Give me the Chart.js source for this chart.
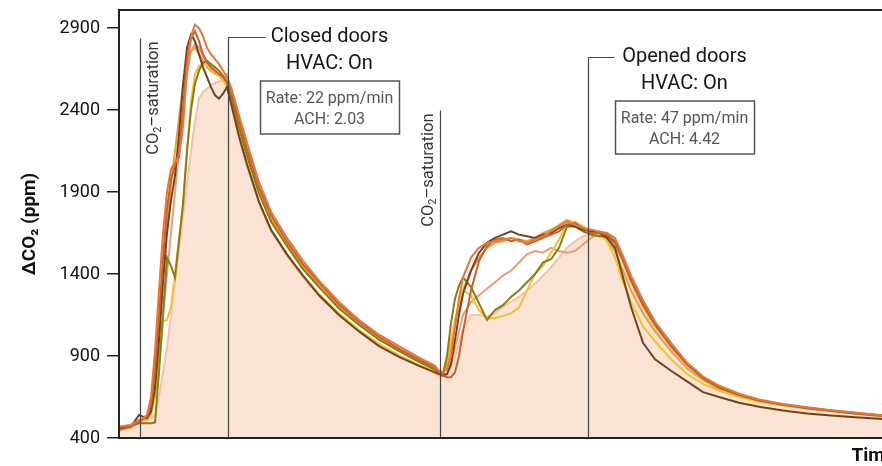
<!DOCTYPE html>
<html>
<head>
<meta charset="utf-8">
<script src="https://cdn.jsdelivr.net/npm/chart.js@4.4.1/dist/chart.umd.min.js"></script>
<style>
  html, body { margin: 0; padding: 0; background: #fff; overflow: hidden; }
  #wrap { width: 900px; height: 466px; }
</style>
</head>
<body>
<div id="wrap"><canvas id="co2Chart" width="900" height="466"></canvas></div>
<script>
// time in arbitrary minutes (the original has no x tick labels)
const minutes = [0, 3, 5, 6, 7, 8, 9, 10, 11, 12, 13, 14, 15, 16, 17, 18, 19, 20, 21, 22, 23, 24, 25, 26, 27,
  28, 30, 32, 35, 38, 42, 46, 50, 55, 60, 65, 70, 75, 79,
  80, 81, 82, 83, 84, 85, 86, 88, 90, 92, 94, 96, 98, 100, 102, 104, 106, 108, 110, 112, 114, 116, 118, 120,
  122, 124, 126, 128, 131, 134, 138, 142, 146, 150, 155, 160, 166, 172, 178, 184, 190, 194];

const ppmTicks = [400, 900, 1400, 1900, 2400, 2900];

// ΔCO2 (ppm) for each repeated run
const runOrange = [470, 480, 510, 520, 540, 650, 930, 1300, 1650, 1900, 2040, 2080, 2110, 2300, 2650, 2850, 2920, 2900, 2850, 2780, 2740, 2710, 2680, 2640, 2600,
  2540, 2370, 2200, 1960, 1780, 1620, 1480, 1360, 1230, 1120, 1030, 960, 890, 840,
  810, 800, 820, 900, 1080, 1250, 1380, 1500, 1560, 1590, 1600, 1610, 1620, 1600, 1590, 1610, 1630, 1660, 1690, 1720, 1700, 1680, 1670, 1660,
  1650, 1620, 1510, 1390, 1240, 1110, 980, 860, 775, 720, 670, 635, 608, 588, 570, 555, 540, 533];
const runRust = [450, 470, 500, 515, 530, 600, 820, 1150, 1500, 1800, 1980, 2060, 2150, 2400, 2700, 2840, 2880, 2820, 2740, 2690, 2660, 2640, 2620, 2600, 2570,
  2520, 2340, 2160, 1930, 1760, 1600, 1460, 1350, 1215, 1110, 1020, 945, 880, 830,
  800, 780, 770, 770, 800, 900, 1050, 1300, 1480, 1570, 1610, 1620, 1600, 1610, 1580, 1600, 1620, 1640, 1660, 1700, 1710, 1680, 1650, 1650,
  1640, 1600, 1490, 1370, 1220, 1100, 965, 850, 770, 712, 665, 630, 605, 585, 568, 552, 538, 530];
const runBrown = [455, 470, 540, 530, 520, 560, 700, 1000, 1350, 1650, 1850, 2000, 2250, 2550, 2780, 2860, 2820, 2740, 2660, 2600, 2540, 2490, 2470, 2500, 2540,
  2440, 2240, 2070, 1840, 1670, 1520, 1390, 1270, 1150, 1050, 960, 895, 840, 800,
  790, 780, 790, 850, 1000, 1150, 1280, 1420, 1530, 1590, 1620, 1640, 1660, 1640, 1630, 1620, 1640, 1650, 1680, 1700, 1690, 1670, 1660, 1650,
  1620, 1560, 1380, 1200, 980, 880, 810, 745, 680, 650, 615, 590, 568, 550, 537, 527, 517, 512];
const runOlive = [460, 475, 490, 490, 490, 490, 495, 800, 1150, 1500, 1450, 1380, 1600, 1830, 2150, 2400, 2560, 2640, 2690, 2700, 2680, 2660, 2640, 2610, 2570,
  2480, 2290, 2120, 1890, 1720, 1570, 1430, 1320, 1190, 1090, 1000, 930, 865, 815,
  800, 790, 900, 1100, 1250, 1330, 1380, 1320, 1220, 1120, 1180, 1210, 1260, 1300, 1350, 1400, 1470, 1490, 1560, 1690, 1690, 1660, 1640, 1630,
  1630, 1590, 1480, 1360, 1210, 1090, 960, 850, 765, 708, 662, 628, 603, 582, 566, 550, 536, 530];
const runYellow = [450, 465, 495, 505, 510, 540, 650, 850, 1110, 1120, 1200, 1400, 1620, 1800, 2150, 2450, 2620, 2670, 2680, 2670, 2650, 2630, 2610, 2580, 2540,
  2450, 2240, 2060, 1840, 1670, 1520, 1390, 1280, 1160, 1060, 975, 905, 845, 800,
  790, 800, 880, 1000, 1120, 1220, 1300, 1270, 1180, 1130, 1130, 1145, 1160, 1195, 1300, 1400, 1450, 1530, 1610, 1710, 1720, 1690, 1660, 1650,
  1600, 1500, 1350, 1230, 1080, 990, 880, 790, 730, 690, 650, 620, 598, 580, 565, 550, 537, 530];
const runGold = [465, 480, 505, 515, 525, 580, 760, 1050, 1380, 1700, 1950, 2150, 2350, 2550, 2700, 2760, 2780, 2740, 2700, 2660, 2640, 2620, 2610, 2590, 2560,
  2500, 2310, 2140, 1910, 1740, 1590, 1450, 1340, 1205, 1100, 1010, 940, 875, 822,
  790, 800, 850, 960, 1100, 1200, 1300, 1420, 1500, 1560, 1590, 1600, 1620, 1610, 1600, 1620, 1650, 1670, 1700, 1730, 1710, 1680, 1660, 1650,
  1610, 1540, 1420, 1300, 1160, 1050, 930, 825, 752, 700, 658, 626, 602, 582, 566, 552, 539, 532];
const runSalmon = [445, 465, 500, 510, 520, 560, 680, 900, 1150, 1400, 1650, 1900, 2150, 2400, 2620, 2760, 2800, 2780, 2730, 2690, 2660, 2640, 2620, 2600, 2580,
  2510, 2320, 2140, 1905, 1730, 1580, 1440, 1330, 1200, 1095, 1005, 935, 870, 818,
  800, 790, 790, 850, 950, 1050, 1150, 1230, 1270, 1310, 1350, 1390, 1420, 1470, 1520, 1540, 1530, 1560, 1540, 1530, 1540, 1580, 1620, 1650,
  1640, 1600, 1500, 1380, 1225, 1100, 970, 855, 770, 712, 666, 630, 605, 585, 568, 553, 540, 533];
const runPale = [460, 470, 495, 505, 515, 520, 540, 650, 800, 950, 1150, 1350, 1550, 1750, 1950, 2150, 2330, 2470, 2510, 2530, 2550, 2565, 2575, 2585, 2620,
  2480, 2230, 2060, 1830, 1660, 1510, 1380, 1270, 1150, 1055, 970, 900, 840, 795,
  780, 775, 790, 830, 900, 980, 1060, 1150, 1150, 1140, 1160, 1200, 1230, 1260, 1300, 1340, 1390, 1440, 1500, 1560, 1600, 1630, 1640, 1630,
  1620, 1580, 1470, 1340, 1190, 1070, 945, 835, 755, 700, 655, 622, 598, 578, 562, 547, 534, 527];

// events marked with vertical lines (time, and how high the line goes in ppm)
const eventMarks = [
  { t: 5.25, top: 2840, label: 'saturation', side: 11 },
  { t: 27.25, top: 2845, title: 'Closed doors', sub: 'HVAC: On', rate: 'Rate: 22 ppm/min', ach: 'ACH: 2.03', lead: 37, cx: 101 },
  { t: 80.25, top: 2400, label: 'saturation', side: -14 },
  { t: 117.25, top: 2723, title: 'Opened doors', sub: 'HVAC: On', rate: 'Rate: 47 ppm/min', ach: 'ACH: 4.42', lead: 26, cx: 96 }
];

const runs = [
  { values: runOrange, color: '#E8763A' },
  { values: runRust, color: '#CC5F26' },
  { values: runBrown, color: '#70441F' },
  { values: runOlive, color: '#8C7C14' },
  { values: runYellow, color: '#F2C230' },
  { values: runGold, color: '#E9A23B' },
  { values: runSalmon, color: '#EE9C74' },
  { values: runPale, color: '#F3C3A6', fill: true }
];

const datasets = runs.map((r, i) => ({
  label: 'Run ' + (i + 1),
  data: minutes.map((t, k) => ({ x: t, y: r.values[k] })),
  borderColor: r.color,
  backgroundColor: '#FBE3D6',
  borderWidth: 2,
  pointRadius: 0,
  tension: 0,
  fill: r.fill ? 'start' : false,
  order: r.fill ? 9 : 0
}));

// draws "CO₂–saturation" rotated, with a real subscript
function drawSatLabel(ctx, ax, ay, text) {
  ctx.save();
  ctx.translate(ax, ay);
  ctx.rotate(-Math.PI / 2);
  ctx.fillStyle = '#333';
  ctx.textBaseline = 'alphabetic';
  ctx.textAlign = 'left';
  const big = '16.5px Roboto', small = '11px Roboto';
  ctx.font = big;
  const wCO = ctx.measureText('CO').width;
  const wRest = ctx.measureText('–' + text).width;
  ctx.font = small;
  const w2 = ctx.measureText('2').width;
  let x0 = -(wCO + w2 + wRest);
  ctx.font = big;
  ctx.fillText('CO', x0, 6);
  ctx.font = small;
  ctx.fillText('2', x0 + wCO, 9);
  ctx.font = big;
  ctx.fillText('–' + text, x0 + wCO + w2, 6);
  ctx.restore();
}

const annotate = {
  id: 'annotate',
  afterDatasetsDraw(chart) {
    const { ctx, chartArea: a, scales: { x, y } } = chart;
    ctx.save();
    eventMarks.forEach(m => {
      const px = Math.round(x.getPixelForValue(m.t)) + 0.5;
      const py = Math.round(y.getPixelForValue(m.top)) + 0.5;
      ctx.strokeStyle = '#444';
      ctx.lineWidth = 1.2;
      ctx.beginPath();
      ctx.moveTo(px, a.bottom);
      ctx.lineTo(px, py);
      if (m.title) ctx.lineTo(px + m.lead, py);
      ctx.stroke();
      if (!m.title) {
        drawSatLabel(ctx, px + m.side, py + 3, m.label);
        return;
      }
      const cx = px + m.cx;
      ctx.textAlign = 'center';
      ctx.textBaseline = 'middle';
      ctx.fillStyle = '#151515';
      ctx.font = '20px Roboto';
      ctx.fillText(m.title, cx, py - 1);
      ctx.fillText(m.sub, cx, py + 26);
      ctx.font = '16px Roboto';
      const w = Math.max(ctx.measureText(m.rate).width, ctx.measureText(m.ach).width) + 12;
      ctx.fillStyle = '#fff';
      ctx.fillRect(cx - w / 2, py + 43, w, 53);
      ctx.strokeStyle = '#555';
      ctx.lineWidth = 1.5;
      ctx.strokeRect(Math.round(cx - w / 2) + 0.5, Math.round(py + 43), Math.round(w), 53);
      ctx.fillStyle = '#555';
      ctx.fillText(m.rate, cx, py + 61);
      ctx.fillText(m.ach, cx, py + 82);
    });
    ctx.restore();
  },
  afterDraw(chart) {
    const { ctx, chartArea: a } = chart;
    ctx.save();
    ctx.strokeStyle = '#222';
    ctx.lineWidth = 2;
    ctx.strokeRect(a.left, a.top, a.right - a.left, a.bottom - a.top);
    ctx.restore();
  }
};

new Chart(document.getElementById('co2Chart'), {
  type: 'line',
  data: { datasets: datasets },
  options: {
    responsive: false,
    animation: false,
    devicePixelRatio: 1,
    layout: { padding: { top: 10, right: 5, left: 0, bottom: 0 } },
    plugins: { legend: { display: false }, tooltip: { enabled: false } },
    scales: {
      x: {
        type: 'linear',
        min: 0,
        max: 194,
        grid: { display: false },
        border: { display: false },
        ticks: { display: false },
        title: {
          display: true,
          text: 'Time',
          align: 'end',
          color: '#111',
          padding: { top: 0, bottom: 0 },
          font: { family: 'Roboto', size: 19, weight: 'bold', lineHeight: 1 }
        },
        afterFit(scale) { scale.height = 28; scale.paddingLeft = 0; scale.paddingRight = 0; }
      },
      y: {
        min: 400,
        max: 3010,
        afterBuildTicks(scale) { scale.ticks = ppmTicks.map(v => ({ value: v })); },
        afterFit(scale) { scale.width = 119; scale.paddingTop = 0; scale.paddingBottom = 0; },
        grid: { drawOnChartArea: false, drawTicks: true, tickLength: 12, color: '#222', lineWidth: 1.5 },
        border: { display: false },
        ticks: { padding: 7, color: '#111', font: { family: 'Roboto', size: 18 }, callback: v => String(v) },
        title: {
          display: true,
          text: 'ΔCO₂ (ppm)',
          color: '#111',
          padding: { top: 19, bottom: 0 },
          font: { family: 'Roboto', size: 19, weight: 'bold' }
        }
      }
    }
  },
  plugins: [annotate]
});
</script>
</body>
</html>
